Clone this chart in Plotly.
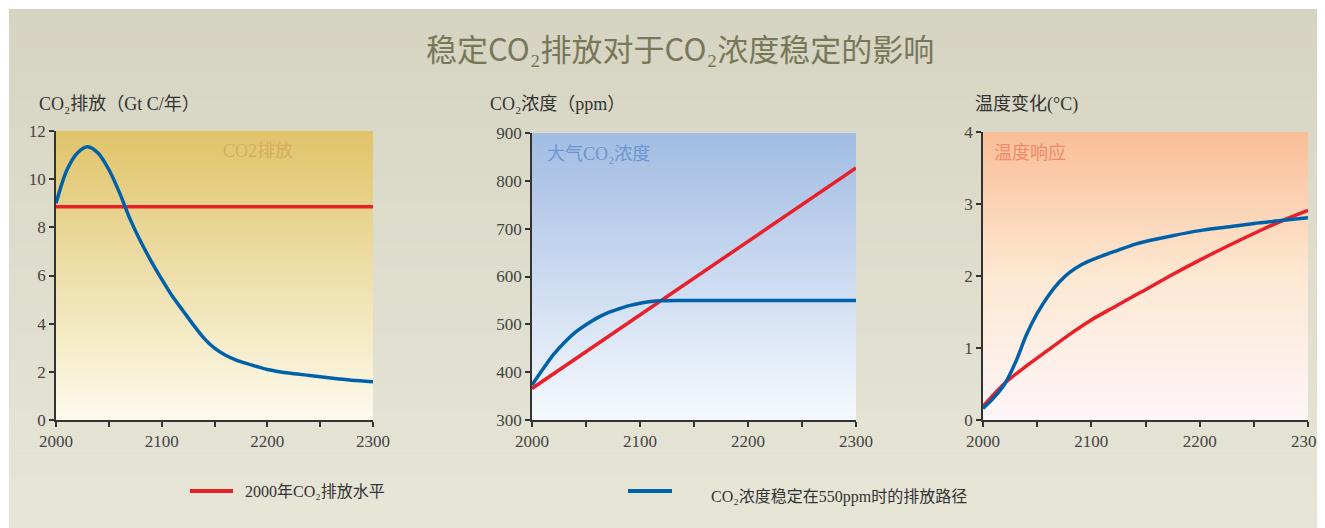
import plotly.graph_objects as go

W, H = 1317, 520
OFF = 8  # page body margin in the browser

# ---------------- data ----------------
emis_years = [2000, 2010, 2020, 2030, 2040, 2050, 2060, 2070, 2080, 2090, 2100, 2110,
              2120, 2130, 2140, 2150, 2160, 2170, 2180, 2190, 2200, 2220, 2240, 2260,
              2280, 2300]
emis_stab = [9.0, 10.35, 11.08, 11.35, 11.08, 10.4, 9.45, 8.35, 7.42, 6.6, 5.85, 5.15,
             4.55, 3.95, 3.4, 2.98, 2.7, 2.5, 2.35, 2.22, 2.1, 1.95, 1.85, 1.74,
             1.65, 1.59]
emis_const_years = [2000, 2300]
emis_const = [8.85, 8.85]

conc_years = [2000, 2010, 2020, 2030, 2040, 2050, 2060, 2070, 2080, 2090, 2100, 2110,
              2120, 2140, 2200, 2250, 2300]
conc_stab = [373, 406, 437, 462, 483, 499, 513, 524, 532, 539, 544, 547.5,
             549.5, 550, 550, 550, 550]
conc_const_years = [2000, 2300]
conc_const = [366, 827]

temp_years = [2000, 2010, 2020, 2030, 2040, 2050, 2060, 2070, 2080, 2090, 2100, 2110,
              2125, 2140, 2150, 2175, 2200, 2225, 2250, 2275, 2300]
temp_stab = [0.16, 0.31, 0.50, 0.80, 1.18, 1.48, 1.72, 1.91, 2.05, 2.15, 2.22, 2.28,
             2.36, 2.44, 2.48, 2.56, 2.63, 2.68, 2.73, 2.77, 2.81]
temp_const_years = [2000, 2020, 2040, 2060, 2080, 2100, 2120, 2140, 2150, 2175,
                    2200, 2225, 2250, 2275, 2300]
temp_const = [0.19, 0.51, 0.75, 0.97, 1.19, 1.39, 1.56, 1.73, 1.81, 2.02,
              2.22, 2.41, 2.59, 2.76, 2.91]

x_ticks = [2000, 2100, 2200, 2300]
title_text = "稳定CO₂排放对于CO₂浓度稳定的影响"
axis_titles = ["CO₂排放（Gt C/年）", "CO₂浓度（ppm）", "温度变化(°C)"]
panel_labels = ["CO2排放", "大气CO₂浓度", "温度响应"]
legend_labels = ["2000年CO₂排放水平", "CO₂浓度稳定在550ppm时的排放路径"]

RED = "#e8202a"
BLUE = "#0061ab"
CJK = "Noto Sans CJK SC"
SERIF = "Liberation Serif, Noto Sans CJK SC"


def px(x):
    return (x - OFF) / W


def py(y):
    return 1 - (y - OFF) / H


fig = go.Figure()

# panel definitions: (x-domain px, y-domain px, y-range, dtick, gradient)
panels = [
    ((56, 373), (420, 131), (0, 12), 2,
     [[0, "#fcfaec"], [1, "#e0c46a"]]),
    ((532, 856), (420, 133), (300, 900), 100,
     [[0, "#f5f9fd"], [1, "#a2bce3"]]),
    ((983, 1308), (420, 132), (0, 4), 1,
     [[0, "#fdf5f8"], [0.5, "#fde8d2"], [1, "#f9be97"]]),
]

series = [
    (emis_const_years, emis_const, emis_years, emis_stab),
    (conc_const_years, conc_const, conc_years, conc_stab),
    (temp_const_years, temp_const, temp_years, temp_stab),
]

for i, (xd, yd, yr, dt, cs) in enumerate(panels, start=1):
    xa = "x" if i == 1 else f"x{i}"
    ya = "y" if i == 1 else f"y{i}"
    fig.add_trace(go.Heatmap(
        x=[2000, 2300], y=[yr[0], yr[1]], z=[[0, 0], [1, 1]],
        zmin=0, zmax=1, colorscale=cs, zsmooth="best", showscale=False,
        hoverinfo="skip", xaxis=xa, yaxis=ya))
    cx, cy, sx, sy = series[i - 1]
    fig.add_trace(go.Scatter(x=cx, y=cy, mode="lines",
                             line=dict(color=RED, width=3.5, shape="spline", smoothing=0.8),
                             showlegend=False, xaxis=xa, yaxis=ya))
    fig.add_trace(go.Scatter(x=sx, y=sy, mode="lines",
                             line=dict(color=BLUE, width=3.5, shape="spline", smoothing=0.8),
                             showlegend=False, xaxis=xa, yaxis=ya))
    axis_common = dict(showline=True, linecolor="#333", linewidth=1.5, ticks="outside",
                       ticklen=5, tickcolor="#333", tickwidth=1.5, showgrid=False,
                       zeroline=False, automargin=False,
                       tickfont=dict(family=SERIF, size=17, color="#444"))
    xkey = "xaxis" if i == 1 else f"xaxis{i}"
    ykey = "yaxis" if i == 1 else f"yaxis{i}"
    fig.update_layout(**{
        xkey: dict(domain=[px(xd[0]), px(xd[1])], range=[2000, 2300], anchor=ya,
                   tickvals=x_ticks, minor=dict(dtick=50, tick0=2000, ticks="outside",
                                                ticklen=5, tickcolor="#333", tickwidth=1.5,
                                                showgrid=False),
                   **axis_common),
        ykey: dict(domain=[py(yd[0]), py(yd[1])], range=list(yr), anchor=xa, dtick=dt,
                   tick0=yr[0], **axis_common),
    })

# page background (gradient stripes) with thin white border
shapes = []
n = 40
top_c = (0xd6, 0xd4, 0xc1)
bot_c = (0xe7, 0xe5, 0xd7)
y0, y1 = 9, H + OFF
for k in range(n):
    t = k / (n - 1)
    c = tuple(round(top_c[j] + (bot_c[j] - top_c[j]) * t) for j in range(3))
    ya0 = y0 + (y1 - y0) * k / n
    ya1 = y0 + (y1 - y0) * (k + 1) / n + 0.6
    shapes.append(dict(type="rect", xref="paper", yref="paper", layer="below",
                       x0=px(9), x1=px(1324), y0=max(py(ya1), 0), y1=py(ya0),
                       fillcolor="rgb(%d,%d,%d)" % c, line=dict(width=0)))

# legend samples
shapes.append(dict(type="line", xref="paper", yref="paper", x0=px(190), x1=px(233),
                   y0=py(491), y1=py(491), line=dict(color=RED, width=4)))
shapes.append(dict(type="line", xref="paper", yref="paper", x0=px(628), x1=px(672),
                   y0=py(491), y1=py(491), line=dict(color=BLUE, width=4)))

annotations = [
    dict(text=title_text, x=px(680), y=py(48), font=dict(family=CJK, size=31, color="#77775a")),
    dict(text=axis_titles[0], x=px(37), y=py(104), xanchor="left",
         font=dict(family=SERIF, size=18, color="#333")),
    dict(text=axis_titles[1], x=px(488), y=py(104), xanchor="left",
         font=dict(family=SERIF, size=18, color="#333")),
    dict(text=axis_titles[2], x=px(973), y=py(104), xanchor="left",
         font=dict(family=SERIF, size=18, color="#333")),
    dict(text=panel_labels[0], x=px(221), y=py(151), xanchor="left",
         font=dict(family=SERIF, size=18, color="#d4ad62")),
    dict(text=panel_labels[1], x=px(545), y=py(154), xanchor="left",
         font=dict(family=SERIF, size=18, color="#6b96d0")),
    dict(text=panel_labels[2], x=px(992), y=py(151), xanchor="left",
         font=dict(family=CJK, size=18, color="#f08a66")),
    dict(text=legend_labels[0], x=px(243), y=py(491), xanchor="left",
         font=dict(family=SERIF, size=16, color="#333")),
    dict(text=legend_labels[1], x=px(709), y=py(497), xanchor="left",
         font=dict(family=SERIF, size=16, color="#333")),
]
for a in annotations:
    a.update(xref="paper", yref="paper", showarrow=False)
    a.setdefault("xanchor", "center")
    a.setdefault("yanchor", "middle")

fig.update_layout(
    template="none",
    width=W, height=H, margin=dict(l=0, r=0, t=0, b=0, pad=0, autoexpand=False),
    paper_bgcolor="white", plot_bgcolor="rgba(0,0,0,0)",
    showlegend=False, shapes=shapes, annotations=annotations,
)

fig.write_html("out.html")
